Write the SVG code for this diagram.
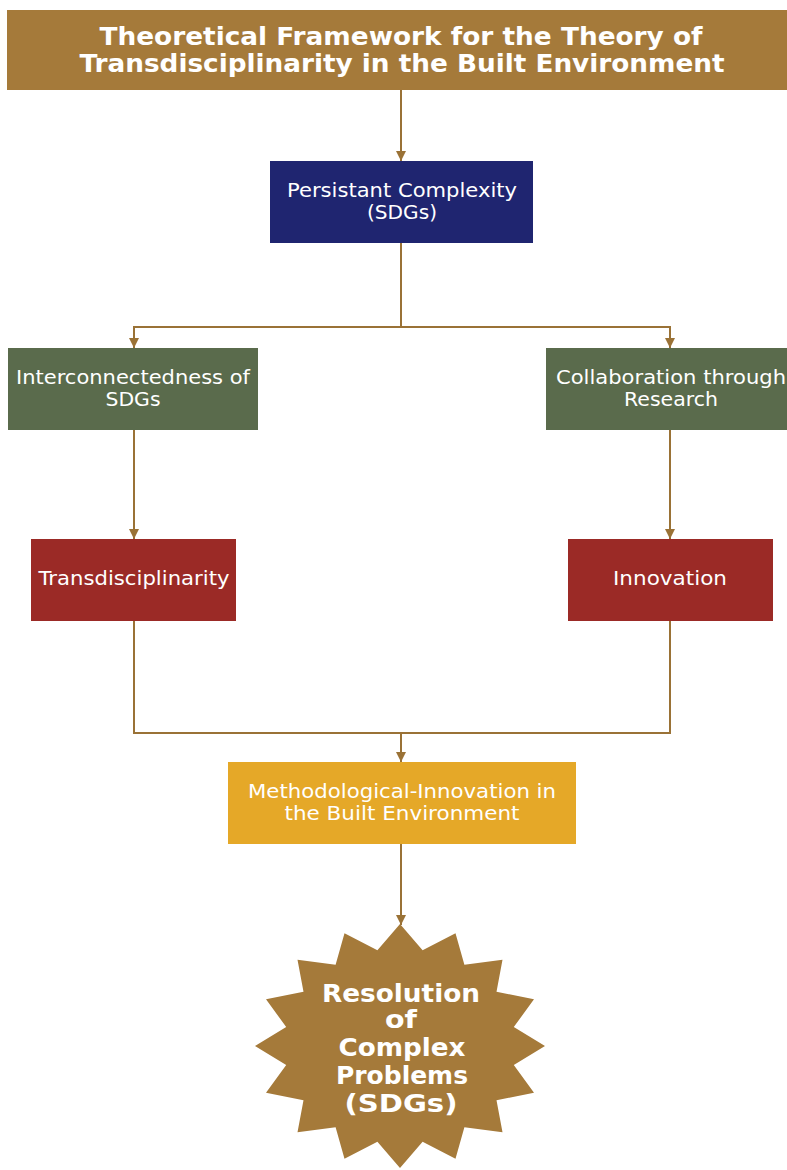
<svg xmlns="http://www.w3.org/2000/svg" width="787" height="1170" viewBox="0 0 787 1170">
<style>
.t{font-family:"DejaVu Sans",Verdana,sans-serif;fill:#fff;text-anchor:middle}
.b{font-weight:bold}
.ln{fill:none;stroke:#9A7236;stroke-width:2}
</style>
<defs>
<marker id="ah" viewBox="0 0 10 10" refX="10" refY="5" markerWidth="10" markerHeight="10" markerUnits="userSpaceOnUse" orient="auto">
<path d="M0,0 L10,5 L0,10 Z" fill="#9A7236"/>
</marker>
</defs>
<rect width="787" height="1170" fill="#fff"/>
<g id="connectors">
<line class="ln" x1="401" y1="90" x2="401" y2="161" marker-end="url(#ah)"/>
<polyline class="ln" points="401,243 401,327"/>
<polyline class="ln" points="134,327 670,327"/>
<line class="ln" x1="134" y1="326" x2="134" y2="348" marker-end="url(#ah)"/>
<line class="ln" x1="670" y1="326" x2="670" y2="348" marker-end="url(#ah)"/>
<line class="ln" x1="134" y1="430" x2="134" y2="539" marker-end="url(#ah)"/>
<line class="ln" x1="670" y1="430" x2="670" y2="539" marker-end="url(#ah)"/>
<polyline class="ln" points="134,621 134,733 670,733 670,621"/>
<line class="ln" x1="401" y1="733" x2="401" y2="762" marker-end="url(#ah)"/>
<line class="ln" x1="401" y1="844" x2="401" y2="925" marker-end="url(#ah)"/>
</g>
<g id="title">
<rect x="7" y="10" width="785" height="80" fill="#A57A3A"/>
<text class="t b" x="401" y="45" font-size="24" textLength="603" lengthAdjust="spacingAndGlyphs">Theoretical Framework for the Theory of</text>
<text class="t b" x="402" y="72" font-size="24" textLength="645" lengthAdjust="spacingAndGlyphs">Transdisciplinarity in the Built Environment</text>
</g>
<g id="persistant">
<rect x="270" y="161" width="263" height="82" fill="#1F2570"/>
<text class="t" x="402" y="197" font-size="19" textLength="230" lengthAdjust="spacingAndGlyphs">Persistant Complexity</text>
<text class="t" x="402" y="219" font-size="19" textLength="70" lengthAdjust="spacingAndGlyphs">(SDGs)</text>
</g>
<g id="interconnectedness">
<rect x="8" y="348" width="250" height="82" fill="#5A6B4C"/>
<text class="t" x="133" y="384" font-size="19" textLength="234" lengthAdjust="spacingAndGlyphs">Interconnectedness of</text>
<text class="t" x="133" y="406" font-size="19" textLength="55" lengthAdjust="spacingAndGlyphs">SDGs</text>
</g>
<g id="collaboration">
<rect x="546" y="348" width="250" height="82" fill="#5A6B4C"/>
<text class="t" x="671" y="384" font-size="19" textLength="230" lengthAdjust="spacingAndGlyphs">Collaboration through</text>
<text class="t" x="671" y="406" font-size="19" textLength="94" lengthAdjust="spacingAndGlyphs">Research</text>
</g>
<g id="transdisciplinarity">
<rect x="31" y="539" width="205" height="82" fill="#9B2A26"/>
<text class="t" x="134" y="585" font-size="19" textLength="191" lengthAdjust="spacingAndGlyphs">Transdisciplinarity</text>
</g>
<g id="innovation">
<rect x="568" y="539" width="205" height="82" fill="#9B2A26"/>
<text class="t" x="670" y="585" font-size="19" textLength="114" lengthAdjust="spacingAndGlyphs">Innovation</text>
</g>
<g id="methodological">
<rect x="228" y="762" width="348" height="82" fill="#E5A828"/>
<text class="t" x="402" y="798" font-size="19" textLength="308" lengthAdjust="spacingAndGlyphs">Methodological-Innovation in</text>
<text class="t" x="402" y="820" font-size="19" textLength="235" lengthAdjust="spacingAndGlyphs">the Built Environment</text>
</g>
<g id="resolution">
<polygon fill="#A57A3A" points="400,924 422.6,950.3 455.5,933.3 464.4,964.8 502.5,959.7 496.5,991.8 534,999.3 513.8,1027 545,1046 513.8,1065 534,1092.7 496.5,1100.2 502.5,1132.3 464.4,1127.2 455.5,1158.7 422.6,1141.7 400,1168 377.4,1141.7 344.5,1158.7 335.6,1127.2 297.5,1132.3 303.5,1100.2 266,1092.7 286.2,1065 255,1046 286.2,1027 266,999.3 303.5,991.8 297.5,959.7 335.6,964.8 344.5,933.3 377.4,950.3"/>
<text class="t b" x="401" y="1002" font-size="24" textLength="158" lengthAdjust="spacingAndGlyphs">Resolution</text>
<text class="t b" x="401" y="1028" font-size="24" textLength="32" lengthAdjust="spacingAndGlyphs">of</text>
<text class="t b" x="402" y="1056" font-size="24" textLength="127" lengthAdjust="spacingAndGlyphs">Complex</text>
<text class="t b" x="402" y="1084" font-size="24" textLength="132" lengthAdjust="spacingAndGlyphs">Problems</text>
<text class="t b" x="401" y="1112" font-size="24" textLength="113" lengthAdjust="spacingAndGlyphs">(SDGs)</text>
</g>
</svg>
